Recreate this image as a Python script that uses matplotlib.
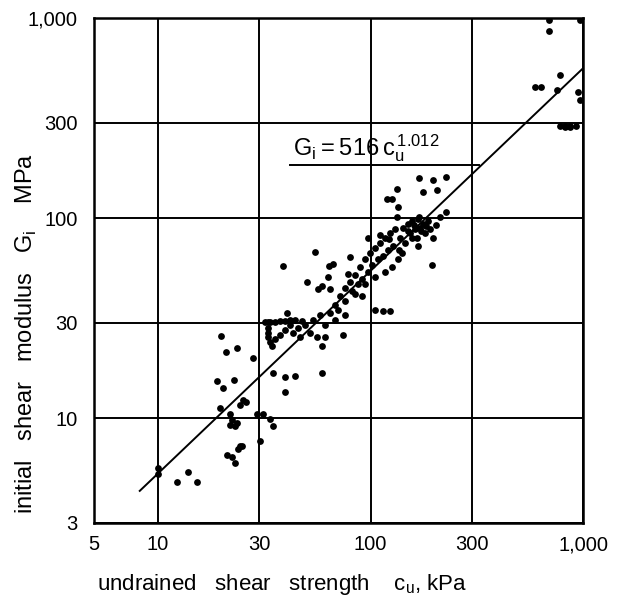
import matplotlib.pyplot as plt
import numpy as np

plt.rcParams['font.family'] = ['Liberation Sans', 'DejaVu Sans']

# data (cu in kPa, Gi in MPa)
cu_high = [692, 692, 968, 780, 594, 634, 755, 947, 968, 780, 823, 869, 927, 823, 869]
gi_high = [976, 865, 976, 519, 454, 454, 438, 427, 387, 290, 290, 290, 290, 284, 284]

cu_upper = [169, 197, 227, 133, 177, 206, 120, 126, 135, 227, 133, 169,
            110.9, 122.3, 97.3, 54.8, 136, 167.3, 194.6, 80.1, 66.6, 63.7,
            50.2, 56.6, 59.1, 64.4, 63.1, 78.4, 38.7, 40.5]
gi_upper = [159, 155.5, 161, 140, 135, 138, 125, 125, 113, 107, 101, 101,
            82.0, 78.4, 79.3, 68.0, 69.5, 72.6, 58.2, 63.6, 58.9, 57.6,
            48.2, 44.2, 45.6, 44.2, 51.0, 52.7, 57.6, 33.5]

cu_band = [71.8, 75.9, 80.1, 81.5, 84.6, 87.4, 89.3, 91.3, 94.3, 97.3, 99.5,
           101.7, 105, 108.5, 110.9, 114.6, 117, 121, 124, 127.6, 130.4, 137.6,
           142.3, 145.3, 150, 153.5, 157, 161.9, 167.3, 171, 176.6, 180.4, 186.5,
           190.5, 196.8, 203, 212.4, 157, 134.7, 126.3, 117, 105, 94.3, 84.6,
           91.3, 75.9, 68.1, 160, 172, 183, 165, 150, 140]
gi_band = [40.8, 44.6, 48.2, 43.2, 52.1, 46.7, 56.9, 49.9, 62.2, 53.9, 67.2,
           58.2, 71.0, 62.2, 75.0, 65.0, 79.3, 69.5, 83.8, 72.6, 88.5, 79.3,
           89.5, 75.0, 93.6, 83.8, 96.6, 88.5, 98.9, 89.5, 93.6, 83.8, 96.6,
           88.5, 79.3, 92.5, 101, 79.3, 62.2, 56.9, 53.9, 51.0, 46.7, 41.8,
           40.8, 38.6, 36.6, 92, 86, 91, 80, 86, 67]

cu_mid = [31.9, 33.6, 35.5, 37.5, 39.6, 41.8, 33, 33, 33, 33.6, 34.4,
          35.5, 37.5, 39.6, 41.8, 43.2, 45.6, 46.6, 49.2, 51.9, 53.6, 56,
          57.8, 61.1, 64.4, 68.1, 74.2, 70.3, 75.9, 59.1, 61.1, 105, 114.6, 124,
          32.8, 44, 47.5]
gi_mid = [30.3, 30.3, 30.3, 30.6, 30.6, 31.0, 28.4, 26.8, 25.4, 24.0, 22.9,
          24.8, 26.2, 27.7, 29.3, 26.8, 28.4, 25.6, 29.3, 26.8, 31.0, 25.4,
          32.8, 29.3, 33.5, 31.0, 26.2, 34.6, 32.8, 22.9, 25.4, 34.6, 34.2, 34.2,
          30.3, 30.8, 30.5]

cu_low = [19.8, 20.9, 23.5, 28.0, 19.0, 20.2, 22.8, 34.8, 39.6, 44.1, 39.6,
          59.1, 25.1, 25.9, 24.3, 19.6, 21.8, 22.3, 23.5, 21.8, 23.0,
          29.2, 31.2, 33.6, 34.8, 30.2, 24.3, 21.1, 23.0, 22.3, 24.8, 23.8,
          10, 10, 12.3, 13.8, 15.3]
gi_low = [25.9, 21.4, 22.4, 20.0, 15.3, 14.2, 15.5, 16.9, 16.0, 16.2, 13.5,
          16.9, 12.4, 12.0, 11.6, 11.3, 10.5, 9.76, 9.51, 9.28, 9.17,
          10.5, 10.5, 9.88, 9.17, 7.71, 7.24, 6.56, 6.01, 6.40, 7.24, 6.99,
          5.65, 5.25, 4.81, 5.38, 4.81]

fit_coef = 0.516
fit_exp = 1.012
fit_range = [8.2, 1000]

x_ticks = [5, 10, 30, 100, 300, 1000]
x_labels = ['5', '10', '30', '100', '300', '1,000']
y_ticks = [3, 10, 30, 100, 300, 1000]
y_labels = ['3', '10', '30', '100', '300', '1,000']

fig = plt.figure(figsize=(6.19, 5.97), dpi=100)
ax = fig.add_axes([0.152, 0.124, 0.790, 0.846])

cu = cu_high + cu_upper + cu_band + cu_mid + cu_low
gi = gi_high + gi_upper + gi_band + gi_mid + gi_low
ax.scatter(cu, gi, s=24, color='black', linewidths=0, zorder=3)

xs = np.logspace(np.log10(fit_range[0]), np.log10(fit_range[1]), 50)
ax.plot(xs, fit_coef * xs ** fit_exp, color='black', lw=1.4, zorder=2)

ax.set_xscale('log')
ax.set_yscale('log')
ax.set_xlim(5, 1000)
ax.set_ylim(3, 1000)
ax.set_xticks(x_ticks)
ax.set_xticklabels(x_labels)
ax.set_yticks(y_ticks)
ax.set_yticklabels(y_labels)
ax.minorticks_off()
ax.tick_params(length=0, labelsize=14.5)
ax.tick_params(axis='x', pad=9)
ax.tick_params(axis='y', pad=12)
ax.grid(True, color='black', lw=1.4)
for sp in ax.spines.values():
    sp.set_linewidth(1.8)

# equation with underline that runs up to the fitted line
ax.text(43, 205, r'$\mathregular{G_i = 516\,c_u^{\,1.012}}$', fontsize=17)
ax.plot([41.8, 325], [185, 185], color='black', lw=1.4)

ax.set_xlabel('undrained   shear   strength    c$_\\mathregular{u}$, kPa', fontsize=16)
ax.set_ylabel('initial   shear   modulus   G$_\\mathregular{i}$    MPa', fontsize=17)
ax.xaxis.set_label_coords(0.385, -0.098)
ax.yaxis.set_label_coords(-0.112, 0.375)

fig.savefig('out.png', dpi=100)
